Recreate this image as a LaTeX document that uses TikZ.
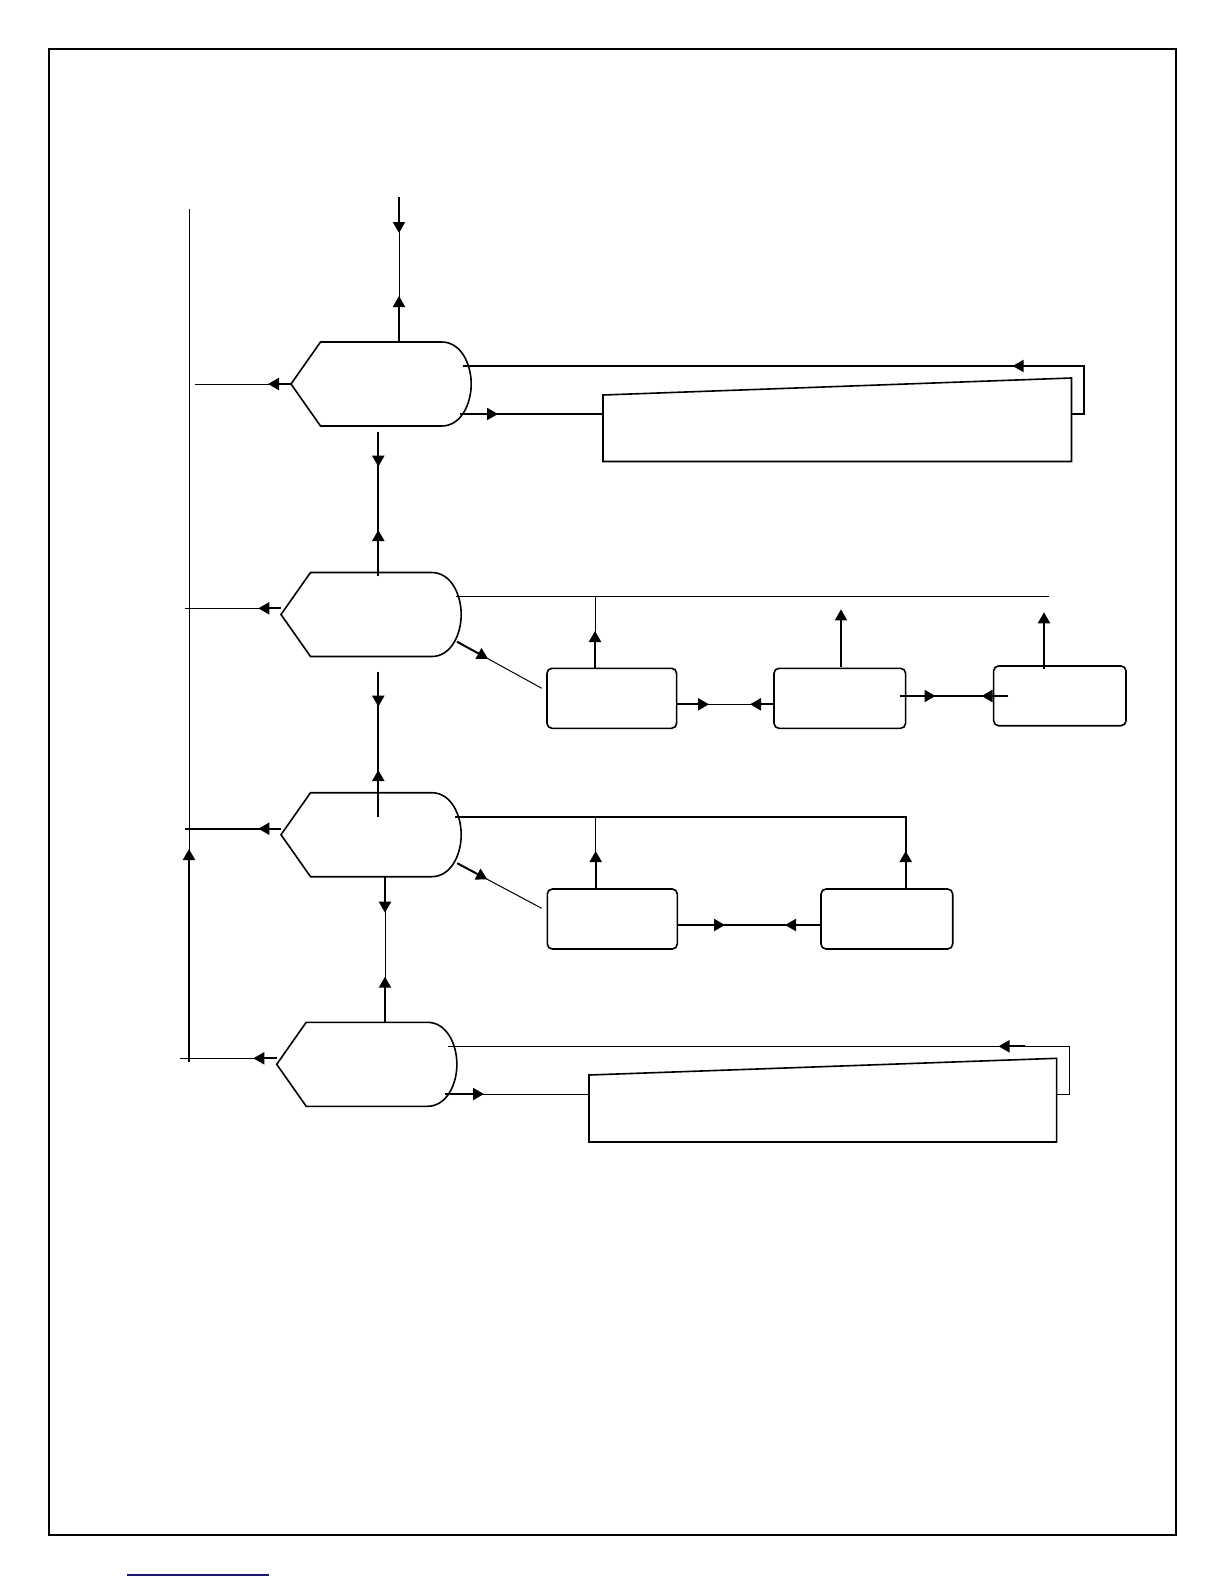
\documentclass[tikz,border=0pt]{standalone}
\usetikzlibrary{arrows.meta,calc}
\definecolor{navyline}{RGB}{20,20,140}
\newcommand\dispshape[3]{%
  \draw[shp] (#1,#2) ++(0,42) coordinate (#3) -- ++(29.5,-42) -- ++(121.2,0)
    .. controls +(19.3,0) and +(0,-20) .. ++(29.5,42)
    .. controls +(0,20) and +(19.3,0) .. ++(-29.5,42)
    -- ++(-121.2,0) -- cycle;}
\begin{document}
\begin{tikzpicture}[x=0.5pt,y=-0.5pt,
  thk/.style={line width=1pt},
  thn/.style={line width=0.5pt},
  arr/.style={-{Triangle[length=5.5pt,width=6pt]}},
  shp/.style={line width=0.8pt, line join=miter},
  box/.style={draw, line width=0.8pt, rounded corners=2.5pt, inner sep=0pt, minimum height=30pt}]
\useasboundingbox (0,0) rectangle (1224,1584);
% frame and footer rule
\draw[line width=1pt] (49,49) rectangle (1175.5,1535);
\draw[line width=0.8pt, navyline] (127,1575) -- (269,1575);

% display shapes
\dispshape{291}{342}{H1}
\dispshape{281}{572.5}{H2}
\dispshape{281}{792.7}{H3}
\dispshape{276.7}{1022.3}{H4}

% manual input shapes
\draw[shp] (603,395) coordinate (R1) -- (1071.5,378) -- (1071.5,461.5) -- (603,461.5) -- cycle;
\draw[shp] (589,1075) coordinate (R4) -- (1056.6,1058.3) -- (1056.6,1142) -- (589,1142) -- cycle;

% rounded boxes
\node[box, minimum width=64.8pt] (A2) at (611.8,698.3) {};
\node[box, minimum width=65.8pt] (B2) at (839.8,698.3) {};
\node[box, minimum width=66.2pt, minimum height=29.85pt] (C2) at (1059.8,695.85) {};
\node[box, minimum width=65pt] (A3) at (612.3,919) {};
\node[box, minimum width=65.85pt] (B3) at (886.85,919) {};

% left bus
\coordinate (busT) at (189,209);
\coordinate (busB) at (189,1062);
\draw[thn] (busT) -- (busB);
\draw[thk,arr] (busB) -- ++(0,-213);

% level 1
\coordinate (in1) at (399,197);
\coordinate (h1t) at (399,342);
\draw[thn] (in1) -- (h1t);
\draw[thk,arr] (in1) -- ++(0,36);
\draw[thk,arr] (h1t) -- ++(0,-46);
\coordinate (o1) at (195,384);
\draw[thn] (H1) -- (o1);
\draw[thk,arr] (H1) -- ++(-23,0);
\coordinate (h1a) at (463,366);
\coordinate (h1c) at (1084,366);
\coordinate (r1r) at (1071.5,414);
\draw[thk] (h1a) -- (h1c) |- (r1r);
\draw[thk,arr] (h1c) -- ++(-71.4,0);
\coordinate (h1b) at (460,414);
\coordinate (r1l) at (603,414);
\draw[thk] (h1b) -- (r1l);
\draw[thk,arr] (h1b) -- ++(38,0);

% level 1 -> 2
\coordinate (v1a) at (378.3,431.7);
\coordinate (v1b) at (378.3,576);
\draw[thk] (v1a) -- (v1b);
\draw[thk,arr] (v1a) -- ++(0,35);
\draw[thk,arr] (v1b) -- ++(0,-46);

% level 2
\coordinate (o2) at (185,608.3);
\coordinate (h2l) at (281,608.3);
\draw[thn] (o2) -- (h2l);
\draw[thk,arr] (h2l) -- ++(-22.7,0);
\coordinate (h2a) at (455.6,596);
\coordinate (h2e) at (1049.4,596);
\draw[thn] (h2a) -- (h2e);
\coordinate (a2u) at (595,668.3);
\coordinate (a2t) at (595,596);
\draw[thn] (a2u) -- (a2t);
\draw[thk,arr] (a2u) -- ++(0,-37.3);
\coordinate (h2d) at (457,641.7);
\coordinate (a2d) at (541.8,688.3);
\draw[thn] (h2d) -- (a2d);
\draw[thk,arr] (h2d) -- ($(h2d)!0.366!(a2d)$);
\coordinate (b2u) at (841,666.7);
\draw[line width=0.7pt,arr] (b2u) -- ++(0,-57.4);
\coordinate (c2u) at (1044,669.3);
\draw[thk,arr] (c2u) -- ++(0,-57);
\coordinate (a2r) at (676.6,704.3);
\coordinate (b2l) at (774,704.3);
\draw[thn] (a2r) -- (b2l);
\draw[thk,arr] (a2r) -- ++(32.4,0);
\draw[thk,arr] (b2l) -- ++(-24,0);
\coordinate (b2r) at (899.8,696);
\coordinate (c2l) at (1008,696);
\draw[thk] (b2r) -- (c2l);
\draw[thk,arr] (b2r) -- ++(35.7,0);
\draw[thk,arr] (c2l) -- ++(-26.5,0);

% level 2 -> 3
\coordinate (v2a) at (378.3,671.7);
\coordinate (v2b) at (378.3,816.7);
\draw[thk] (v2a) -- (v2b);
\draw[thk,arr] (v2a) -- ++(0,35);
\draw[thk,arr] (v2b) -- ++(0,-46.7);

% level 3
\coordinate (o3) at (185,828.7);
\coordinate (h3l) at (281,828.7);
\draw[thk] (o3) -- (h3l);
\draw[thk,arr] (h3l) -- ++(-22.7,0);
\coordinate (h3a) at (455,816.7);
\coordinate (b3u) at (905.7,889);
\draw[thk] (h3a) -| (b3u);
\draw[thk,arr] (b3u) -- ++(0,-38);
\coordinate (a3u) at (595.7,889);
\coordinate (a3t) at (595.7,816.7);
\draw[thn] (a3u) -- (a3t);
\draw[thk,arr] (a3u) -- ++(0,-38);
\coordinate (h3d) at (457.3,863.3);
\coordinate (a3d) at (541.7,908.3);
\draw[thn] (h3d) -- (a3d);
\draw[thk,arr] (h3d) -- ($(h3d)!0.355!(a3d)$);
\coordinate (a3r) at (677.3,925);
\coordinate (b3l) at (821,925);
\draw[thk] (a3r) -- (b3l);
\draw[thk,arr] (a3r) -- ++(47.7,0);
\draw[thk,arr] (b3l) -- ++(-36,0);

% level 3 -> 4
\coordinate (v3a) at (385,876.7);
\coordinate (v3b) at (385,1022.3);
\draw[thn] (v3a) -- (v3b);
\draw[thk,arr] (v3a) -- ++(0,36);
\draw[thk,arr] (v3b) -- ++(0,-45.6);

% level 4
\coordinate (o4) at (180,1058.3);
\coordinate (h4l) at (276.7,1058.3);
\draw[thn] (o4) -- (h4l);
\draw[thk,arr] (h4l) -- ++(-23.4,0);
\coordinate (h4a) at (448,1046.3);
\coordinate (h4c) at (1069,1046.3);
\coordinate (r4r) at (1056.6,1094);
\draw[thn] (h4a) -- (h4c) |- (r4r);
\coordinate (h4k) at (1025.4,1046.3);
\draw[thk,arr] (h4k) -- ++(-26.9,0);
\coordinate (h4b) at (445,1094);
\coordinate (r4l) at (589,1094);
\draw[thn] (h4b) -- (r4l);
\draw[thk,arr] (h4b) -- ++(39,0);
\end{tikzpicture}
\end{document}
